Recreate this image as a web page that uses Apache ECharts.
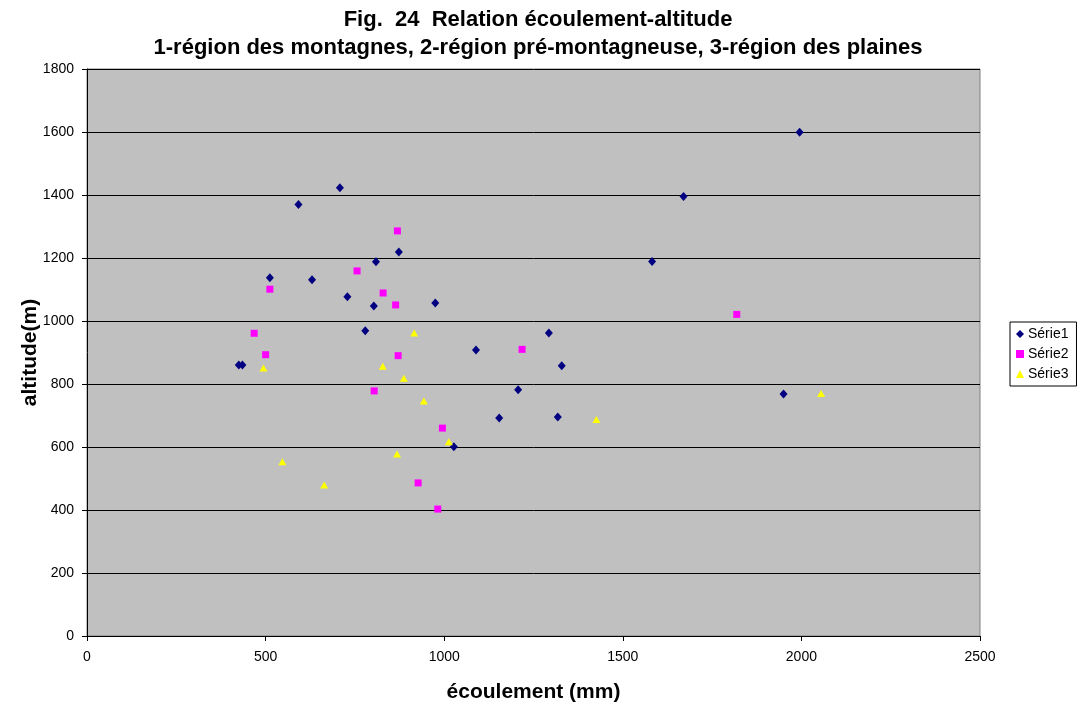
<!DOCTYPE html>
<html>
<head>
<meta charset="utf-8">
<script src="https://cdn.jsdelivr.net/npm/echarts@6/dist/echarts.min.js"></script>
<style>
  html, body { margin: 0; padding: 0; background: #ffffff; }
  #chart { width: 1079px; height: 704px; }
</style>
</head>
<body>
<div id="chart"></div>
<script>
// Station data: [écoulement (mm), altitude (m)]
const serie1 = [
  [425, 860], [435, 860], [512, 1137], [592, 1370], [630, 1131], [708, 1423],
  [729, 1077], [779, 969], [803, 1048], [809, 1188], [873, 1219], [975, 1057],
  [1027, 601], [1089, 908], [1154, 692], [1207, 782], [1293, 962], [1318, 695],
  [1329, 858], [1582, 1189], [1670, 1395], [1950, 768], [1995, 1599]
];
const serie2 = [
  [468, 961], [500, 893], [512, 1101], [756, 1159], [804, 778], [829, 1089],
  [864, 1051], [871, 890], [869, 1286], [927, 486], [982, 403], [995, 660],
  [1218, 910], [1819, 1021]
];
const serie3 = [
  [494, 851], [547, 553], [664, 479], [828, 856], [868, 578], [887, 818],
  [916, 962], [943, 746], [1013, 617], [1426, 687], [2055, 770]
];
const seriesNames = ['Série1', 'Série2', 'Série3'];
const titleLines = [
  'Fig.  24  Relation écoulement-altitude',
  '1-région des montagnes, 2-région pré-montagneuse, 3-région des plaines'
];
const xAxisName = 'écoulement (mm)';
const yAxisName = 'altitude(m)';

const FONT = '"Liberation Sans", Arial, sans-serif';
const chart = echarts.init(document.getElementById('chart'), null, { renderer: 'canvas' });

// plain integer tick labels, no thousands separator
const plain = v => String(v);

chart.setOption({
  animation: false,
  backgroundColor: '#ffffff',
  title: {
    text: titleLines.join('\n'),
    left: 533,
    textAlign: 'center',
    top: 1,
    textStyle: {
      fontFamily: FONT, fontSize: 22, fontWeight: 'bold', color: '#000000', lineHeight: 28
    }
  },
  legend: {
    orient: 'vertical',
    left: 1010,
    top: 322,
    backgroundColor: '#ffffff',
    borderColor: '#000000',
    borderWidth: 1,
    padding: [5, 8, 5, 6],
    itemGap: 6,
    itemWidth: 8,
    itemHeight: 8,
    textStyle: { fontFamily: FONT, fontSize: 14, color: '#000000', padding: [0, 0, 0, -1] },
    data: seriesNames
  },
  grid: {
    left: 87, right: 99, top: 69, bottom: 68,
    outerBoundsMode: 'none',
    containLabel: false,
    show: true,
    backgroundColor: '#C0C0C0',
    borderColor: '#808080',
    borderWidth: 1
  },
  xAxis: {
    type: 'value',
    min: 0, max: 2500, interval: 500,
    name: xAxisName,
    nameLocation: 'middle',
    nameGap: 46,
    nameMoveOverlap: false,
    nameTextStyle: { fontFamily: FONT, fontSize: 21, fontWeight: 'bold', color: '#000000' },
    axisLine: { show: true, onZero: false, lineStyle: { color: '#000000', width: 1 } },
    axisTick: { show: true, inside: false, length: 5, lineStyle: { color: '#000000' } },
    axisLabel: { fontFamily: FONT, fontSize: 14, color: '#000000', margin: 14, formatter: plain },
    splitLine: { show: false }
  },
  yAxis: {
    type: 'value',
    min: 0, max: 1800, interval: 200,
    name: yAxisName,
    nameLocation: 'middle',
    nameGap: 46,
    nameMoveOverlap: false,
    nameTextStyle: { fontFamily: FONT, fontSize: 21, fontWeight: 'bold', color: '#000000' },
    axisLine: { show: true, onZero: false, lineStyle: { color: '#000000', width: 1 } },
    axisTick: { show: true, inside: false, length: 5, lineStyle: { color: '#000000' } },
    axisLabel: { fontFamily: FONT, fontSize: 14, color: '#000000', margin: 13, formatter: plain },
    splitLine: { show: true, lineStyle: { color: '#000000', width: 1 } }
  },
  series: [
    {
      name: seriesNames[0], type: 'scatter', data: serie1,
      symbol: 'diamond', symbolSize: [8, 9],
      itemStyle: { color: '#000080', opacity: 1 }
    },
    {
      name: seriesNames[1], type: 'scatter', data: serie2,
      symbol: 'rect', symbolSize: 7,
      itemStyle: { color: '#FF00FF', opacity: 1 }
    },
    {
      name: seriesNames[2], type: 'scatter', data: serie3,
      symbol: 'triangle', symbolSize: [8, 7],
      itemStyle: { color: '#FFFF00', opacity: 1 }
    }
  ]
});
</script>
</body>
</html>
